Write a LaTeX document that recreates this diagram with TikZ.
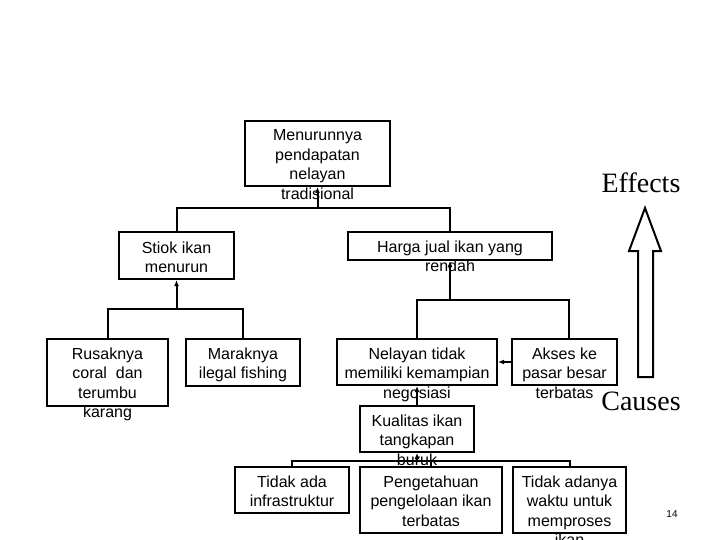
\documentclass[tikz,border=0pt]{standalone}
\usepackage{fontspec}
\setmainfont{Liberation Sans}
\newfontfamily\labserif{Liberation Serif}
\usetikzlibrary{arrows.meta}
\begin{document}
\begin{tikzpicture}[x=1pt,y=-1pt,
  box/.style={draw, line width=2pt, inner sep=0pt},
  txt/.style={anchor=north, align=center, inner sep=0pt, font=\fontsize{16}{19.5}\selectfont},
  conn/.style={line width=2pt},
  arr/.style={line width=2pt, -{Latex[length=6pt,width=5pt]}},
  big/.style={font=\labserif\fontsize{28}{30}\selectfont, anchor=base, inner sep=0pt}]
\useasboundingbox (0,0) rectangle (720,540);
\fill[white] (0,0) rectangle (720,540);

% boxes
\node[box, minimum width=145pt, minimum height=65pt] (top) at (317.5,153.5) {};
\node[box, minimum width=115pt, minimum height=47pt] (stiok) at (176.5,255.5) {};
\node[box, minimum width=204pt, minimum height=28pt] (harga) at (450,246) {};
\node[box, minimum width=121pt, minimum height=67pt] (rusak) at (107.5,372.5) {};
\node[box, minimum width=114pt, minimum height=47pt] (marak) at (243,362.5) {};
\node[box, minimum width=160pt, minimum height=46pt] (nelayan) at (417,362) {};
\node[box, minimum width=105pt, minimum height=46pt] (akses) at (564.5,362) {};
\node[box, minimum width=114pt, minimum height=46pt] (kualitas) at (417,429) {};
\node[box, minimum width=114pt, minimum height=46pt] (infra) at (292,490) {};
\node[box, minimum width=142pt, minimum height=66pt] (penget) at (431,500) {};
\node[box, minimum width=113pt, minimum height=66pt] (waktu) at (569.5,500) {};

% texts
\node[txt] (ttop) at (317.5,129.5) {Menurunnya\\pendapatan\\nelayan\\tradisional};
\node[txt] (tstiok) at (176.5,241.5) {Stiok ikan\\menurun};
\node[txt] (tharga) at (450,240.5) {Harga jual ikan yang\\rendah};
\node[txt] (trusak) at (107.5,347.5) {Rusaknya\\coral\ \ dan\\terumbu\\karang};
\node[txt] (tmarak) at (243,347.5) {Maraknya\\ilegal fishing};
\node[txt] (tnelayan) at (417,347.5) {Nelayan tidak\\memiliki kemampian\\negosiasi};
\node[txt] (takses) at (564.5,347.5) {Akses ke\\pasar besar\\terbatas};
\node[txt] (tkualitas) at (417,414.5) {Kualitas ikan\\tangkapan\\buruk};
\node[txt] (tinfra) at (292,475.5) {Tidak ada\\infrastruktur};
\node[txt] (tpenget) at (431,475.5) {Pengetahuan\\pengelolaan ikan\\terbatas};
\node[txt] (twaktu) at (569.5,475.5) {Tidak adanya\\waktu untuk\\memproses\\ikan};

% connectors
\coordinate (j1) at (317.5,208);
\draw[conn] (stiok.north) |- (j1) -| (harga.north);
\draw[arr] (j1) -- (top.south);

\coordinate (j2) at (176.5,309);
\draw[conn] (rusak.north) |- (j2) -| (marak.north);
\draw[arr] (j2) -- (stiok.south);

\coordinate (j3) at (450,300);
\coordinate (aksin) at (569,339);
\draw[conn] (nelayan.north) |- (j3) -| (aksin);
\draw[arr] (j3) -- (harga.south);

\draw[arr] (akses.west) -- (nelayan.east);
\draw[arr] (kualitas.north) -- (nelayan.south);

\coordinate (j4) at (417,461);
\draw[conn] (infra.north) |- (j4) -| (penget.north);
\draw[conn] (penget.north) |- (j4) -| (waktu.north);
\draw[arr] (j4) -- (kualitas.south);

% big hollow arrow
\draw[line width=2pt, line join=miter] (638,377) -- (638,251) -- (629,251) -- (645,208) -- (661,251) -- (653,251) -- (653,377) -- cycle;
\node[big] (effects) at (641,193) {Effects};
\node[big] (causes) at (641,410) {Causes};

\node[font=\fontsize{10}{12}\selectfont, inner sep=0pt] (pg) at (672,514) {14};
\end{tikzpicture}
\end{document}
